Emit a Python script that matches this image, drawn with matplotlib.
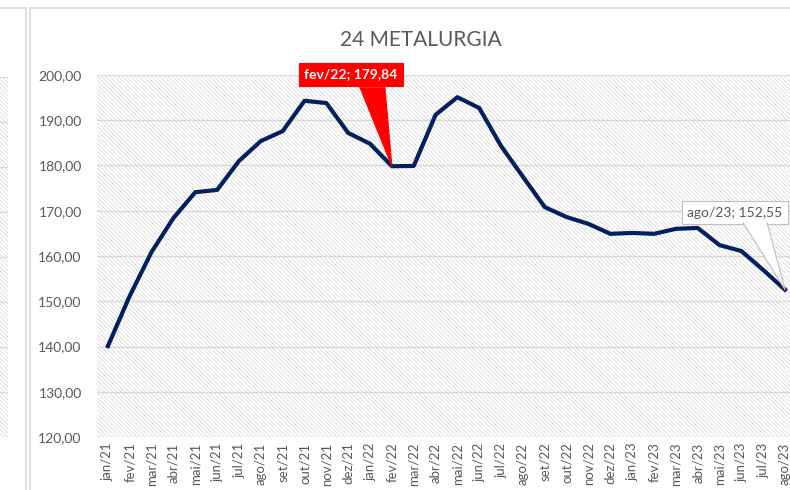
import numpy as np
import matplotlib.pyplot as plt
import matplotlib.transforms as mtransforms
from matplotlib.patches import Rectangle, Polygon

# ---------------- DATA ----------------
months = ['jan/21', 'fev/21', 'mar/21', 'abr/21', 'mai/21', 'jun/21', 'jul/21', 'ago/21',
          'set/21', 'out/21', 'nov/21', 'dez/21', 'jan/22', 'fev/22', 'mar/22', 'abr/22',
          'mai/22', 'jun/22', 'jul/22', 'ago/22', 'set/22', 'out/22', 'nov/22', 'dez/22',
          'jan/23', 'fev/23', 'mar/23', 'abr/23', 'mai/23', 'jun/23', 'jul/23', 'ago/23']
values = [140.1, 151.2, 160.9, 168.4, 174.1, 174.6, 181.0, 185.4,
          187.6, 194.3, 193.8, 187.2, 184.8, 179.84, 179.9, 191.2,
          195.1, 192.7, 184.3, 177.5, 170.8, 168.6, 167.1, 164.9,
          165.1, 164.9, 166.0, 166.2, 162.4, 161.1, 156.9, 152.55]
y_ticks = [120, 130, 140, 150, 160, 170, 180, 190, 200]
title = '24 METALURGIA'
hi_label = 'fev/22'
last_label = 'ago/23'

W, H = 790, 490
plt.rcParams['font.family'] = ['Lato', 'DejaVu Sans']
plt.rcParams['hatch.linewidth'] = 0.45

grey_txt = '#595959'
grid_col = '#d9d9d9'
hatch_col = '#d2d2d2'


def fmt(v):
    return f'{v:.2f}'.replace('.', ',')


def hatched(ax):
    ax.add_patch(Rectangle((0, 0), 1, 1, transform=ax.transAxes, facecolor='white',
                           edgecolor=hatch_col, hatch='\\' * 8, lw=0, zorder=0))


def callout(ax, xv, yv, text, off, base, fc, ec, tc, weight):
    # off / base in pixels relative to the data point (x right, y up)
    fig = ax.figure
    tr = fig.dpi_scale_trans + mtransforms.ScaledTranslation(xv, yv, ax.transData)
    tip = (0, 0)
    b1 = (base[0] / 100, base[2] / 100)
    b2 = (base[1] / 100, base[2] / 100)
    ax.add_patch(Polygon([tip, b1, b2], closed=True, transform=tr, fc=fc, ec='none',
                         zorder=6, clip_on=False))
    ax.plot([b1[0], 0, b2[0]], [b1[1], 0, b2[1]], color=ec, lw=0.8, transform=tr,
            zorder=6, clip_on=False)
    ax.annotate(text, xy=(xv, yv), xytext=(off[0] * 0.72, off[1] * 0.72),
                textcoords='offset points', ha='center', va='center', fontsize=10,
                fontweight=weight, color=tc, zorder=5, annotation_clip=False,
                bbox=dict(boxstyle='square,pad=0.4', fc=fc, ec=ec, lw=0.8))


fig = plt.figure(figsize=(W / 100, H / 100), dpi=100)

# panel borders (chart objects)
fig.add_artist(Rectangle((-10 / W, -0.1), 36 / W, 1.1 - 8 / H, transform=fig.transFigure,
                         fill=False, edgecolor=grid_col, lw=1.2))
fig.add_artist(Rectangle((30 / W, -0.1), 1.0, 1.1 - 8 / H, transform=fig.transFigure,
                         fill=False, edgecolor=grid_col, lw=1.2))

# ---------------- LEFT (cut off) CHART ----------------
axl = fig.add_axes([-40 / W, 1 - 437 / H, 48 / W, (437 - 77) / H])
hatched(axl)
axl.set_ylim(120, 200)
axl.set_xlim(-0.5, 0.5)
axl.set_yticks(y_ticks)
axl.set_yticklabels([])
axl.set_xticks([0.2])
axl.set_xticklabels([last_label], rotation=90, color=grey_txt, fontsize=9.5)
axl.tick_params(length=0, pad=4)
axl.grid(axis='y', color=grid_col, lw=1.0)
axl.set_axisbelow(True)
for s in axl.spines.values():
    s.set_visible(False)

# ---------------- MAIN CHART ----------------
x = np.arange(len(months))
ax = fig.add_axes([97 / W, 1 - 437 / H, 699 / W, (437 - 75) / H])
hatched(ax)
ax.plot(x, values, color='#002060', lw=3.0, solid_joinstyle='round', zorder=3)
ax.set_xlim(-0.5, len(months) - 0.5)
ax.set_ylim(120, 200)
ax.set_yticks(y_ticks)
ax.set_yticklabels([fmt(v) for v in y_ticks], color=grey_txt, fontsize=10)
ax.set_xticks(x)
ax.set_xticklabels(months, rotation=90, color=grey_txt, fontsize=9.5)
ax.tick_params(length=0)
ax.tick_params(axis='y', pad=11)
ax.tick_params(axis='x', pad=4)
ax.grid(axis='y', color=grid_col, lw=1.0)
ax.set_axisbelow(True)
for s in ax.spines.values():
    s.set_visible(False)

fig.text(421 / W, 1 - 40 / H, title, ha='center', va='center', fontsize=15, color=grey_txt)

# callouts
i = months.index(hi_label)
callout(ax, x[i], values[i], f'{hi_label}; {fmt(values[i])}', off=(-41, 92),
        base=(-32, -7, 79), fc='#ff0000', ec='#ff0000', tc='white', weight='bold')

j = months.index(last_label)
callout(ax, x[j], values[j], f'{last_label}; {fmt(values[j])}', off=(-50, 77),
        base=(-42, -18, 67), fc='white', ec='#bfbfbf', tc=grey_txt, weight='normal')

fig.savefig('out.png', dpi=100)
